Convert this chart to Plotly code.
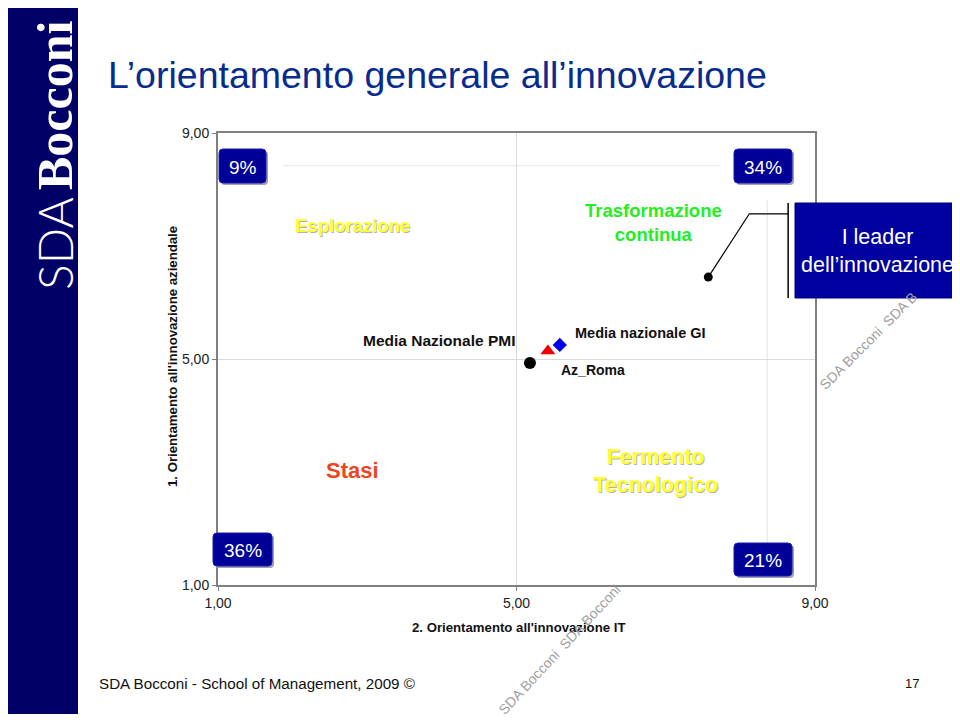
import plotly.graph_objects as go

# ---- data ----
series_names = ["Az_Roma", "Media Nazionale PMI", "Media nazionale GI", "I leader dell'innovazione"]
x_it = [5.18, 5.42, 5.58, 7.57]
y_az = [4.93, 5.14, 5.25, 6.45]
marker_symbols = ["circle", "triangle-up", "diamond", "circle"]
marker_colors = ["#000000", "#EE0000", "#0000EE", "#000000"]
marker_sizes = [12, 13, 11, 9]

quadrant_names = ["Esplorazione", "Trasformazione<br>continua", "Stasi", "Fermento<br>Tecnologico"]
quadrant_shares = ["9%", "34%", "36%", "21%"]
tick_vals = [1, 5, 9]
tick_text = ["1,00", "5,00", "9,00"]

W, H = 960, 720
OFF = 8  # page body margin of the html page
def px(x): return (x - OFF) / W
def py(y): return 1 - (y - OFF) / H

FONT = "Liberation Sans, Arial"

fig = go.Figure()
for i in range(len(series_names)):
    fig.add_trace(go.Scatter(
        x=[x_it[i]], y=[y_az[i]], mode="markers", name=series_names[i],
        marker=dict(symbol=marker_symbols[i], color=marker_colors[i], size=marker_sizes[i],
                    line=dict(width=0)),
        showlegend=False, hoverinfo="name"))

shapes = []
annotations = []

def ann(x, y, text, size, color="#111111", family=FONT, xanchor="center", yanchor="middle", **kw):
    font = dict(family=family, size=size, color=color)
    if "weight" in kw:
        font["weight"] = kw.pop("weight")
    annotations.append(dict(xref="paper", yref="paper", x=px(x), y=py(y), text=text, showarrow=False,
                            xanchor=xanchor, yanchor=yanchor, font=font, **kw))

# left band
shapes.append(dict(type="rect", xref="paper", yref="paper", x0=px(8), x1=px(78), y0=py(714), y1=py(8),
                   fillcolor="#000066", line=dict(width=0), layer="below"))
# right thin slide edge
shapes.append(dict(type="line", xref="paper", yref="paper", x0=px(953), x1=px(953), y0=py(8), y1=py(720),
                   line=dict(color="#222222", width=1), layer="below"))

# faint quadrant sub-lines
shapes.append(dict(type="line", xref="x", yref="y", x0=1.87, x1=7.73, y0=8.42, y1=8.42,
                   line=dict(color="#E4E4E4", width=1), layer="below"))
shapes.append(dict(type="line", xref="x", yref="y", x0=8.36, x1=8.36, y0=1.53, y1=7.81,
                   line=dict(color="#E4E4E4", width=1), layer="below"))

# callout lines to leader box
shapes.append(dict(type="path", xref="x", yref="y",
                   path=f"M {x_it[3]},{y_az[3]} L 8.12,7.57 L 8.64,7.57",
                   line=dict(color="#000000", width=1.2)))
shapes.append(dict(type="line", xref="x", yref="y", x0=8.64, x1=8.64, y0=6.08, y1=7.76,
                   line=dict(color="#000000", width=1.5)))
# leader box
shapes.append(dict(type="rect", xref="paper", yref="paper", x0=px(795), x1=px(958), y0=py(298), y1=py(203),
                   fillcolor="#0000A0", line=dict(color="#000080", width=1)))
ann(877, 251, "I leader<br>dell’innovazione", 21.5, color="white")

def rrect(x0, y0, x1, y1, r=4):
    X0, X1 = px(x0), px(x1)
    Y0, Y1 = py(y0), py(y1)
    rx, ry = r / W, r / H
    return (f"M {X0+rx},{Y0} L {X1-rx},{Y0} Q {X1},{Y0} {X1},{Y0-ry} "
            f"L {X1},{Y1+ry} Q {X1},{Y1} {X1-rx},{Y1} L {X0+rx},{Y1} "
            f"Q {X0},{Y1} {X0},{Y1+ry} L {X0},{Y0-ry} Q {X0},{Y0} {X0+rx},{Y0} Z")

boxes = [(219, 149, 266, 183), (734, 149, 792, 183), (213, 533, 272, 566), (734, 543, 792, 576)]
for (x0, y0, x1, y1), share in zip(boxes, quadrant_shares):
    shapes.append(dict(type="path", xref="paper", yref="paper", path=rrect(x0 + 2, y0 + 2, x1 + 2, y1 + 2),
                       fillcolor="#A0A0B4", line=dict(width=0)))
    shapes.append(dict(type="path", xref="paper", yref="paper", path=rrect(x0, y0, x1, y1),
                       fillcolor="#000099", line=dict(color="#1A1AB0", width=1)))
    ann((x0 + x1) / 2, (y0 + y1) / 2 + 1, share, 19, color="white")

# quadrant labels (with light shadow)
quad_pos = [(352, 225), (653, 222), (352, 470), (655, 471)]
quad_col = ["#FFFF33", "#22EE22", "#EE4422", "#FFFF33"]
quad_size = [18.5, 18.5, 22, 21.5]
for name, (x, y), c, s in zip(quadrant_names, quad_pos, quad_col, quad_size):
    if c == "#FFFF33":
        ann(x, y, f"<b>{name}</b>", s, color="#B4B4A0", xshift=1, yshift=-1)
    ann(x, y, f"<b>{name}</b>", s, color=c)

# point labels
ann(517, 340, "<b>Media Nazionale PMI</b>", 15.5, xanchor="right")
ann(573, 333, "<b>Media nazionale GI</b>", 14.5, xanchor="left")
ann(559, 370, "<b>Az_Roma</b>", 14, xanchor="left")

# axis titles
ann(172, 357, "<b>1. Orientamento all'innovazione aziendale</b>", 13.2, textangle=-90)
ann(518, 627, "<b>2. Orientamento all'innovazione IT</b>", 13.2)

# title
ann(106, 75, "L’orientamento generale all’innovazione", 37.5, color="#082C8E", xanchor="left")
# footer
ann(97, 683, "SDA Bocconi - School of Management, 2009 ©", 15.2, xanchor="left")
ann(912, 683, "17", 13)

# band logo
ann(55, 105, "<b>Bocconi</b>", 50, color="white", family="Liberation Serif", textangle=-90)
ann(55, 244, "SDA", 48, color="white", family="Lato", textangle=-90, weight=300)

# watermarks
ann(559, 650, "SDA Bocconi  SDA Bocconi", 14, color="#A0A0A0", textangle=-47)
ann(868, 341, "SDA Bocconi  SDA B", 14, color="#A0A0A0", textangle=-45)

axis_common = dict(range=[1, 9], tickvals=tick_vals, ticktext=tick_text, showline=True, mirror=True,
                   linecolor="#808080", linewidth=2, showgrid=True, gridcolor="#DADADA", gridwidth=1,
                   zeroline=False, ticks="outside", ticklen=4, tickcolor="#808080", automargin=False,
                   tickfont=dict(family=FONT, size=14, color="#222222"))

fig.update_layout(
    width=W, height=H, margin=dict(l=0, r=0, t=0, b=0, pad=0, autoexpand=False),
    paper_bgcolor="white", plot_bgcolor="white",
    xaxis=dict(domain=[px(218), px(815)], **axis_common),
    yaxis=dict(domain=[py(585), py(133)], **axis_common),
    shapes=shapes, annotations=annotations, showlegend=False,
)
fig.write_html("out.html")
